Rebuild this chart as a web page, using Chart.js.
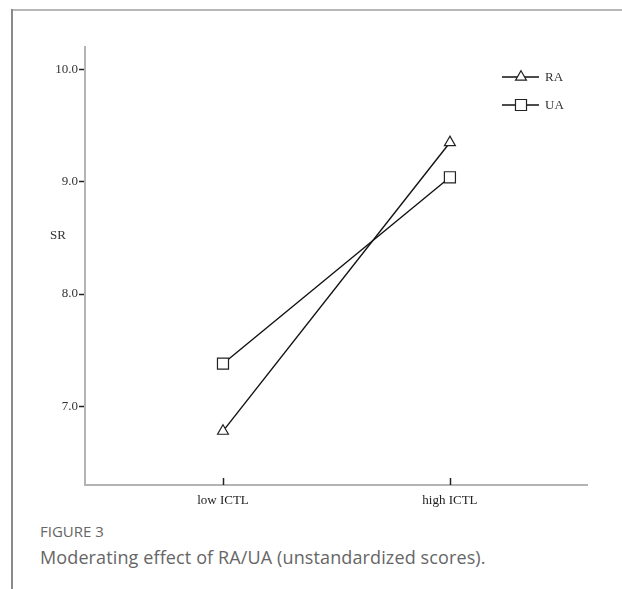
<!DOCTYPE html>
<html>
<head>
<meta charset="utf-8">
<script src="https://cdn.jsdelivr.net/npm/chart.js@4.4.1/dist/chart.umd.min.js"></script>
<style>
  html, body { margin: 0; padding: 0; background: #fff; }
  body { width: 622px; height: 589px; position: relative; overflow: hidden; }
  #frameTop { position: absolute; left: 11px; top: 9px; width: 611px; height: 2px; background: #b8b8b8; }
  #frameLeft { position: absolute; left: 11px; top: 9px; width: 2px; height: 580px; background: #8a8a8a; }
  #wrap { position: absolute; left: 0; top: 0; width: 622px; height: 515px; }
  #caption { position: absolute; left: 40px; top: 521px; font-family: "Open Sans", sans-serif; color: #666; }
  #caption .fig { font-size: 15px; }
  #caption .txt { font-size: 18px; letter-spacing: 0.12px; margin-top: 4px; }
</style>
</head>
<body>
<div id="frameTop"></div>
<div id="frameLeft"></div>
<div id="wrap"><canvas id="chart" width="622" height="515"></canvas></div>
<div id="caption">
  <div class="fig">FIGURE 3</div>
  <div class="txt">Moderating effect of RA/UA (unstandardized scores).</div>
</div>
<script>
// interaction plot data
const categories = ['low ICTL', 'high ICTL'];
const seriesNames = ['RA', 'UA'];
const raValues = [6.78, 9.35];
const uaValues = [7.38, 9.04];
const yTickValues = [7.0, 8.0, 9.0, 10.0];
const yAxisTitle = 'SR';

const serif = '"Liberation Serif", "DejaVu Serif", serif';

function toPoints(values) {
    return values.map(function (v, i) { return { x: i, y: v }; });
}

const ctx = document.getElementById('chart').getContext('2d');

new Chart(ctx, {
    type: 'line',
    data: {
        datasets: [
            {
                label: seriesNames[0],
                data: toPoints(raValues),
                borderColor: '#111',
                borderWidth: 1.4,
                pointStyle: 'triangle',
                pointRadius: 6.3,
                pointBackgroundColor: '#fff',
                pointBorderColor: '#222',
                pointBorderWidth: 1.2
            },
            {
                label: seriesNames[1],
                data: toPoints(uaValues),
                borderColor: '#111',
                borderWidth: 1.4,
                pointStyle: 'rect',
                pointRadius: 7.8,
                pointBackgroundColor: '#fff',
                pointBorderColor: '#222',
                pointBorderWidth: 1.2
            }
        ]
    },
    options: {
        responsive: false,
        animation: false,
        layout: { padding: { left: 54, right: 35, top: 47, bottom: 0 } },
        plugins: {
            legend: { display: false },
            tooltip: { enabled: false }
        },
        scales: {
            x: {
                type: 'linear',
                min: -0.608,
                max: 1.604,
                afterBuildTicks: function (scale) {
                    scale.ticks = categories.map(function (c, i) { return { value: i }; });
                },
                afterFit: function (scale) { scale.height = 30; },
                ticks: {
                    color: '#222',
                    font: { family: serif, size: 13 },
                    padding: 8,
                    callback: function (v) { return categories[v] ?? ''; }
                },
                grid: { display: true, drawOnChartArea: false, drawTicks: false },
                border: { color: '#b4b4b4', width: 2 }
            },
            y: {
                min: 6.3,
                max: 10.2,
                afterBuildTicks: function (scale) {
                    scale.ticks = yTickValues.map(function (v) { return { value: v }; });
                },
                afterFit: function (scale) { scale.width = 31; },
                ticks: {
                    color: '#333',
                    font: { family: serif, size: 13 },
                    padding: 1,
                    callback: function (v) { return Number(v).toFixed(1); }
                },
                grid: { drawOnChartArea: false, tickLength: 6, tickColor: '#222', tickWidth: 1.5 },
                border: { color: '#b4b4b4', width: 2 }
            }
        }
    },
    plugins: [{
        id: 'spssExtras',
        afterDraw: function (chart) {
            const c = chart.ctx;
            const xs = chart.scales.x;
            const ys = chart.scales.y;
            c.save();

            // x ticks point up into the plot
            c.strokeStyle = '#222';
            c.lineWidth = 1.5;
            categories.forEach(function (cat, i) {
                const px = Math.round(xs.getPixelForValue(i)) + 0.5;
                c.beginPath();
                c.moveTo(px, ys.bottom);
                c.lineTo(px, ys.bottom - 7);
                c.stroke();
            });

            // horizontal y title
            c.fillStyle = '#333';
            c.font = '13px ' + serif;
            c.textAlign = 'left';
            c.textBaseline = 'middle';
            c.fillText(yAxisTitle, 50, ys.getPixelForValue(8.52));

            // legend
            const items = [
                { name: seriesNames[0], style: 'triangle', r: 6.3, y: 77 },
                { name: seriesNames[1], style: 'rect', r: 7.8, y: 105 }
            ];
            items.forEach(function (it) {
                c.strokeStyle = '#111';
                c.lineWidth = 1.4;
                c.beginPath();
                c.moveTo(502, it.y);
                c.lineTo(539, it.y);
                c.stroke();
                c.fillStyle = '#fff';
                c.strokeStyle = '#222';
                c.lineWidth = 1.2;
                Chart.helpers.drawPoint(c, { pointStyle: it.style, radius: it.r, borderWidth: 1.2, rotation: 0 }, 521, it.y);
                c.fillStyle = '#333';
                c.font = '13px ' + serif;
                c.textAlign = 'left';
                c.textBaseline = 'middle';
                c.fillText(it.name, 545, it.y + 1);
            });
            c.restore();
        }
    }]
});
</script>
</body>
</html>
